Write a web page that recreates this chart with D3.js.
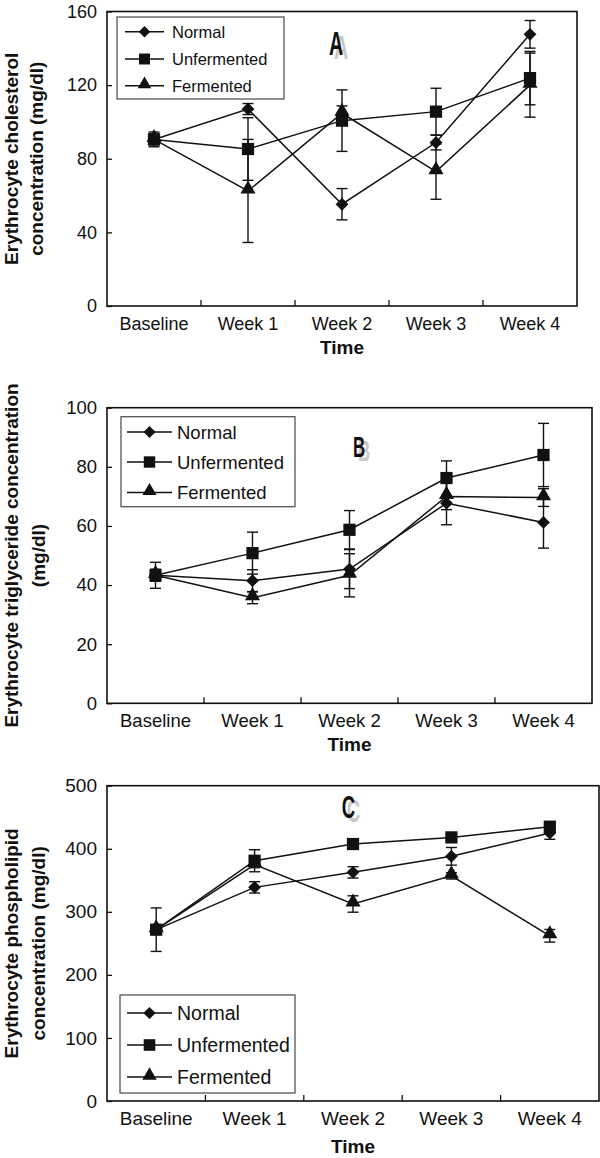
<!DOCTYPE html>
<html>
<head>
<meta charset="utf-8">
<script src="https://cdn.jsdelivr.net/npm/d3@7"></script>
<style>
  html, body { margin: 0; padding: 0; background: #fff; }
  svg { display: block; }
  text { font-family: "Liberation Sans", Arial, sans-serif; fill: #111; }
</style>
</head>
<body>
<svg id="chart" width="600" height="1158"></svg>
<script>
// ---------- DATA ----------
const categories = ["Baseline", "Week 1", "Week 2", "Week 3", "Week 4"];
const seriesNames = ["Normal", "Unfermented", "Fermented"];

// Panel A: erythrocyte cholesterol (mg/dl)
const cholTicks = [0, 40, 80, 120, 160];
const cholNormal = [90.5, 107, 55.3, 88.8, 147.6];
const cholNormalErr = [3, 3, 8.5, 4, 7.5];
const cholUnfermented = [90.5, 85.3, 100.7, 105.6, 123.8];
const cholUnfermentedErr = [4, 17, 16.7, 12.7, 14.5];
const cholFermented = [90.5, 62.5, 104.7, 73, 120];
const cholFermentedErr = [2, 28, 4, 15, 17.4];

// Panel B: erythrocyte triglyceride (mg/dl)
const trigTicks = [0, 20, 40, 60, 80, 100];
const trigNormal = [43.3, 41.5, 45.4, 67.7, 61.2];
const trigNormalErr = [2, 3.7, 6.6, 7.3, 8.7];
const trigUnfermented = [43.3, 50.8, 58.7, 76.2, 84];
const trigUnfermentedErr = [4.4, 7.1, 6.5, 5.8, 10.7];
const trigFermented = [43.3, 35.7, 43.3, 70, 69.6];
const trigFermentedErr = [2, 2, 7.3, 4.5, 3];

// Panel C: erythrocyte phospholipid (mg/dl)
const phosTicks = [0, 100, 200, 300, 400, 500];
const phosNormal = [271.7, 338.8, 362.6, 388, 425];
const phosNormalErr = [5, 9, 9, 14, 10];
const phosUnfermented = [271.7, 381, 407.5, 418, 435];
const phosUnfermentedErr = [34.5, 17.5, 5, 5, 5];
const phosFermented = [271.7, 375, 312.4, 357, 262];
const phosFermentedErr = [5, 5, 13, 5, 10];

// ---------- DRAW ----------
const svg = d3.select("#chart");

const diamond = d3.symbol().type(d3.symbolSquare);
const markerPath = {
  Normal: (s) => d3.symbol().type(d3.symbolSquare).size(s * 0.55)(),
  Unfermented: (s) => d3.symbol().type(d3.symbolSquare).size(s)(),
  Fermented: (s) => d3.symbol().type(d3.symbolTriangle).size(s * 0.66)()
};
const markerRot = { Normal: 45, Unfermented: 0, Fermented: 0 };
const markerDy = { Normal: 0, Unfermented: 0, Fermented: -1.8 };

function drawPanel(cfg) {
  const g = svg.append("g");
  const x = d3.scaleBand().domain(categories).range([cfg.left, cfg.right]).paddingInner(0).paddingOuter(0);
  const y = d3.scaleLinear().domain([cfg.ticks[0], cfg.ticks[cfg.ticks.length - 1]]).range([cfg.bottom, cfg.top]);
  const cx = (c) => x(c) + x.bandwidth() / 2;

  // frame
  g.append("rect")
    .attr("x", cfg.left).attr("y", cfg.top)
    .attr("width", cfg.right - cfg.left).attr("height", cfg.bottom - cfg.top)
    .attr("fill", "none").attr("stroke", "#111").attr("stroke-width", 1.6);

  // y axis
  const ya = g.append("g").attr("transform", `translate(${cfg.left},0)`)
    .call(d3.axisLeft(y).tickValues(cfg.ticks).tickSize(-5).tickPadding(10).tickFormat(d3.format("d")));
  ya.select(".domain").remove();
  ya.selectAll(".tick line").attr("stroke", "#111").attr("stroke-width", 1.3);
  ya.selectAll(".tick text").attr("font-size", cfg.tickFont).attr("fill", "#111")
    .attr("font-family", '"Liberation Sans", Arial, sans-serif');

  // x axis labels
  const xa = g.append("g").attr("transform", `translate(0,${cfg.bottom})`)
    .call(d3.axisBottom(x).tickSize(0).tickPadding(0));
  xa.select(".domain").remove();
  xa.selectAll(".tick text").attr("font-size", cfg.tickFont).attr("fill", "#111")
    .attr("font-family", '"Liberation Sans", Arial, sans-serif')
    .attr("dy", null).attr("y", cfg.catBase - cfg.bottom);

  // x category boundary ticks (inward)
  g.selectAll(".xbound").data(categories.slice(1)).join("line")
    .attr("x1", (c) => x(c)).attr("x2", (c) => x(c))
    .attr("y1", cfg.bottom).attr("y2", cfg.bottom - 6)
    .attr("stroke", "#111").attr("stroke-width", 1.3);

  // axis titles
  g.append("text").attr("x", (cfg.left + cfg.right) / 2).attr("y", cfg.timeBase)
    .attr("text-anchor", "middle").attr("font-weight", "bold").attr("font-size", 19).text("Time");
  const ymid = (cfg.top + cfg.bottom) / 2;
  cfg.yTitle.forEach((line, i) => {
    g.append("text")
      .attr("transform", `translate(${cfg.titleX[i]},${ymid}) rotate(-90)`)
      .attr("text-anchor", "middle").attr("font-weight", "bold").attr("font-size", 19)
      .text(line);
  });

  // panel letter with grey shadow
  const lx = cfg.letterX, ly = cfg.letterY;
  [["#c8c8c8", 5, 4], ["#111", 0, 0]].forEach(([col, dx, dy]) => {
    g.append("text")
      .attr("transform", `translate(${lx + dx},${ly + dy}) scale(0.58,1)`)
      .attr("font-family", '"Liberation Serif", "Times New Roman", serif')
      .attr("font-weight", "bold").attr("font-size", cfg.letterSize)
      .attr("text-anchor", "middle")
      .style("fill", col).text(cfg.letter);
  });

  // series
  const lineGen = d3.line().x((d) => cx(d.c)).y((d) => y(d.v));
  cfg.series.forEach((s) => {
    const pts = categories.map((c, i) => ({ c, v: s.values[i], e: s.err[i] }));
    g.append("path").datum(pts).attr("d", lineGen)
      .attr("fill", "none").attr("stroke", "#111").attr("stroke-width", 1.5);
    const eb = g.append("g");
    pts.forEach((p) => {
      const x0 = cx(p.c);
      eb.append("line").attr("x1", x0).attr("x2", x0).attr("y1", y(p.v - p.e)).attr("y2", y(p.v + p.e))
        .attr("stroke", "#111").attr("stroke-width", 1.4);
      [p.v - p.e, p.v + p.e].forEach((v) => {
        eb.append("line").attr("x1", x0 - 5.5).attr("x2", x0 + 5.5).attr("y1", y(v)).attr("y2", y(v))
          .attr("stroke", "#111").attr("stroke-width", 1.4);
      });
    });
    g.selectAll(null).data(pts).join("path")
      .attr("d", markerPath[s.name](150))
      .attr("transform", (d) => `translate(${cx(d.c)},${y(d.v) + markerDy[s.name]}) rotate(${markerRot[s.name]})`)
      .attr("fill", "#111");
  });

  // legend
  const L = cfg.legend;
  g.append("rect").attr("x", L.x0).attr("y", L.y0).attr("width", L.x1 - L.x0).attr("height", L.y1 - L.y0)
    .attr("fill", "#fff").attr("stroke", "#555").attr("stroke-width", 1.3);
  seriesNames.forEach((name, i) => {
    const ry = L.rows[i];
    g.append("line").attr("x1", L.lx0).attr("x2", L.lx1).attr("y1", ry).attr("y2", ry)
      .attr("stroke", "#111").attr("stroke-width", 1.5);
    g.append("path").attr("d", markerPath[name](L.msize))
      .attr("transform", `translate(${(L.lx0 + L.lx1) / 2},${ry + markerDy[name] * 0.8}) rotate(${markerRot[name]})`)
      .attr("fill", "#111");
    g.append("text").attr("x", L.tx).attr("y", ry).attr("dy", "0.36em")
      .attr("font-size", L.font).text(name);
  });
}

drawPanel({
  left: 107, right: 577, top: 11.5, bottom: 306,
  ticks: cholTicks, tickFont: 18, catBase: 330, timeBase: 354,
  yTitle: ["Erythrocyte cholesterol", "concentration (mg/dl)"], titleX: [17.5, 43],
  letter: "A", letterX: 336, letterY: 55, letterSize: 34,
  series: [
    { name: "Normal", values: cholNormal, err: cholNormalErr },
    { name: "Unfermented", values: cholUnfermented, err: cholUnfermentedErr },
    { name: "Fermented", values: cholFermented, err: cholFermentedErr }
  ],
  legend: { x0: 117, x1: 284, y0: 17, y1: 99, rows: [31.7, 59, 85.7], lx0: 125, lx1: 164, tx: 172, font: 16.5, msize: 120 }
});

drawPanel({
  left: 107, right: 592, top: 407.7, bottom: 703.3,
  ticks: trigTicks, tickFont: 18.5, catBase: 727, timeBase: 751,
  yTitle: ["Erythrocyte triglyceride concentration", "(mg/dl)"], titleX: [17.5, 45],
  letter: "B", letterX: 359, letterY: 457, letterSize: 29,
  series: [
    { name: "Normal", values: trigNormal, err: trigNormalErr },
    { name: "Unfermented", values: trigUnfermented, err: trigUnfermentedErr },
    { name: "Fermented", values: trigFermented, err: trigFermentedErr }
  ],
  legend: { x0: 121, x1: 295, y0: 416.7, y1: 506.7, rows: [432, 462, 492.5], lx0: 127, lx1: 172, tx: 177, font: 18.5, msize: 130 }
});

drawPanel({
  left: 107, right: 599, top: 785.7, bottom: 1101,
  ticks: phosTicks, tickFont: 19, catBase: 1125, timeBase: 1153,
  yTitle: ["Erythrocyte phospholipid", "concentration (mg/dl)"], titleX: [17.5, 45],
  letter: "C", letterX: 348.5, letterY: 818, letterSize: 32,
  series: [
    { name: "Normal", values: phosNormal, err: phosNormalErr },
    { name: "Unfermented", values: phosUnfermented, err: phosUnfermentedErr },
    { name: "Fermented", values: phosFermented, err: phosFermentedErr }
  ],
  legend: { x0: 120, x1: 295, y0: 995, y1: 1093, rows: [1013, 1045, 1077], lx0: 127, lx1: 172, tx: 177, font: 19.5, msize: 135 }
});
</script>
</body>
</html>
